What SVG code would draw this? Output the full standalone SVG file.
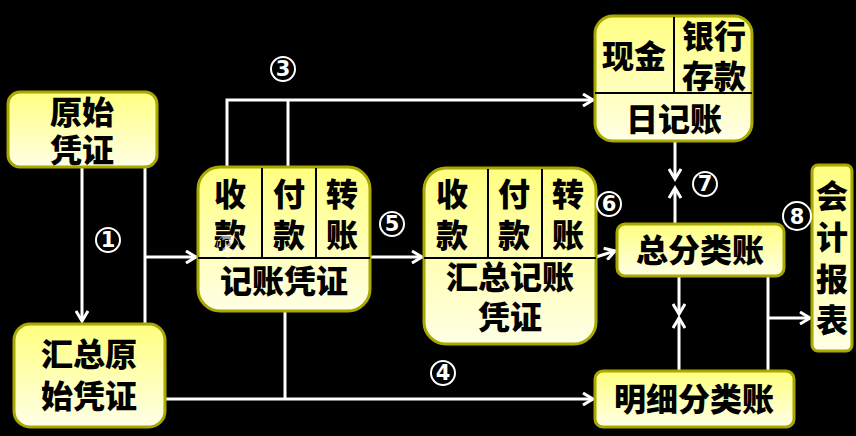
<svg xmlns="http://www.w3.org/2000/svg" width="856" height="436" viewBox="0 0 856 436">
<defs>
<linearGradient id="g" x1="0" y1="0" x2="0" y2="1"><stop offset="0" stop-color="#ffff80"/><stop offset="1" stop-color="#ffffe6"/></linearGradient>
<marker id="a" markerWidth="14" markerHeight="14" refX="11" refY="7" orient="auto" markerUnits="userSpaceOnUse"><path d="M1,1 L11,7 L1,13" fill="none" stroke="#fff" stroke-width="3"/></marker>
<style>
.n{fill:url(#g);stroke:#a8a800;stroke-width:3}
.d{stroke:#000;stroke-width:2}
.t{font-family:"Noto Sans CJK SC",sans-serif;font-weight:900;font-size:32px;fill:#000;text-anchor:middle}
.c path,.c line,.c polyline{stroke:#fff;stroke-width:3;fill:none}
.l{font-family:"DejaVu Sans",sans-serif;font-size:21px;fill:#fff;text-anchor:middle;font-weight:bold}
.r{fill:none;stroke:#fff;stroke-width:2}
</style>
</defs>
<rect width="856" height="436" fill="#000"/>
<g class="c">
<line x1="82" y1="167" x2="82" y2="321" marker-end="url(#a)"/>
<line x1="145" y1="167" x2="145" y2="324"/>
<line x1="145" y1="257" x2="196" y2="257" marker-end="url(#a)"/>
<polyline points="227,167 227,100 593,100" marker-end="url(#a)"/>
<line x1="288" y1="100" x2="288" y2="167"/>
<line x1="370" y1="257" x2="422" y2="257" marker-end="url(#a)"/>
<line x1="596" y1="257" x2="615" y2="251" marker-end="url(#a)"/>
<line x1="165" y1="399" x2="593" y2="399" marker-end="url(#a)"/>
<line x1="285" y1="311" x2="285" y2="399"/>
<line x1="675" y1="141" x2="675" y2="179" marker-end="url(#a)"/>
<line x1="675" y1="224" x2="675" y2="188" marker-end="url(#a)"/>
<line x1="679" y1="276" x2="679" y2="314" marker-end="url(#a)"/>
<line x1="679" y1="371" x2="679" y2="318" marker-end="url(#a)"/>
<line x1="768" y1="276" x2="768" y2="371"/>
<line x1="768" y1="318" x2="810" y2="318" marker-end="url(#a)"/>
</g>
<g id="yuanshi"><rect class="n" x="8" y="92" width="149" height="75" rx="12"/><text class="t" x="82" y="124">原始</text><text class="t" x="82" y="162">凭证</text></g>
<g id="huizongyuanshi"><rect class="n" x="14" y="324" width="151" height="103" rx="16"/><text class="t" x="89" y="366">汇总原</text><text class="t" x="89" y="408">始凭证</text></g>
<g id="jizhang"><rect class="n" x="198" y="167" width="172" height="144" rx="22"/>
<line class="d" x1="198" y1="258" x2="370" y2="258"/><line class="d" x1="262" y1="168" x2="262" y2="258"/><line class="d" x1="316" y1="168" x2="316" y2="258"/>
<text class="t" x="230" y="206">收</text><text class="t" x="230" y="247">款</text><text class="t" x="289" y="206">付</text><text class="t" x="289" y="247">款</text><text class="t" x="342" y="206">转</text><text class="t" x="342" y="247">账</text>
<text class="t" x="284" y="293">记账凭证</text></g>
<g id="huizongjizhang"><rect class="n" x="424" y="168" width="172" height="176" rx="22"/>
<line class="d" x1="424" y1="258" x2="596" y2="258"/><line class="d" x1="488" y1="169" x2="488" y2="258"/><line class="d" x1="542" y1="169" x2="542" y2="258"/>
<text class="t" x="452" y="206">收</text><text class="t" x="514" y="206">付</text><text class="t" x="568" y="206">转</text><text class="t" x="452" y="247">款</text><text class="t" x="514" y="247">款</text><text class="t" x="568" y="247">账</text>
<text class="t" x="510" y="289">汇总记账</text><text class="t" x="510" y="329">凭证</text></g>
<g id="rijizhang"><rect class="n" x="595" y="16" width="157" height="125" rx="18"/>
<line class="d" x1="595" y1="93" x2="752" y2="93"/><line class="d" x1="674" y1="17" x2="674" y2="93"/>
<text class="t" x="634" y="68">现金</text><text class="t" x="714" y="48">银行</text><text class="t" x="714" y="88">存款</text>
<text class="t" x="674" y="131">日记账</text></g>
<g id="zongfenlei"><rect class="n" x="617" y="224" width="167" height="52" rx="8"/><text class="t" x="700" y="262">总分类账</text></g>
<g id="mingxi"><rect class="n" x="595" y="371" width="199" height="56" rx="8"/><text class="t" x="694" y="411">明细分类账</text></g>
<g id="baobiao"><rect class="n" x="812" y="165" width="40" height="186" rx="6"/><text class="t" x="832" y="208">会</text><text class="t" x="832" y="249">计</text><text class="t" x="832" y="291">报</text><text class="t" x="832" y="332">表</text></g>
<g id="labels">
<circle class="r" cx="108" cy="240" r="12"/><text class="l" x="108" y="247" font-size="16">1</text>
<circle class="r" cx="283" cy="69" r="12"/><text class="l" x="283" y="76" font-size="16">3</text>
<circle class="r" cx="392" cy="224" r="12"/><text class="l" x="392" y="231" font-size="16">5</text>
<circle class="r" cx="443" cy="373" r="12"/><text class="l" x="443" y="380" font-size="16">4</text>
<circle class="r" cx="609" cy="204" r="12"/><text class="l" x="609" y="211" font-size="16">6</text>
<circle class="r" cx="705" cy="184" r="12"/><text class="l" x="705" y="191" font-size="16">7</text>
<circle class="r" cx="797" cy="216" r="14"/><text class="l" x="797" y="224" font-size="20">8</text>
<circle cx="228" cy="246" r="11" fill="none" stroke="#fff" stroke-width="1" opacity="0.6"/><text class="l" x="228" y="252" font-size="15" opacity="0.6">2</text>
</g>
</svg>
